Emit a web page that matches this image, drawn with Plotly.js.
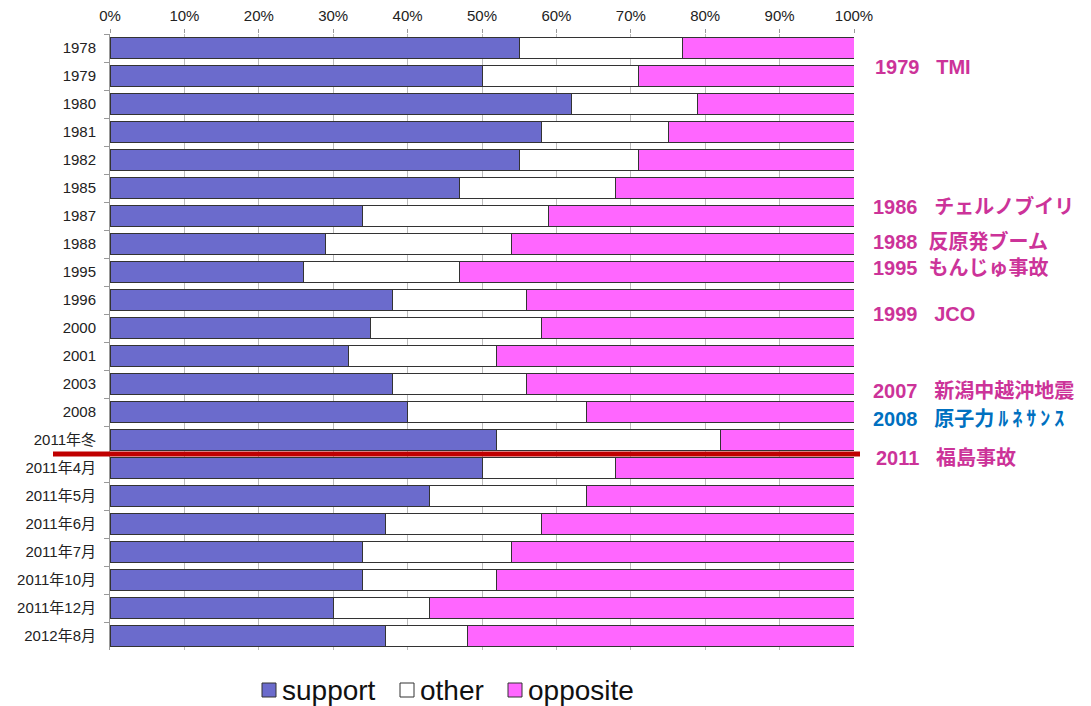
<!DOCTYPE html>
<html><head><meta charset="utf-8">
<script src="https://cdn.plot.ly/plotly-3.0.1.min.js"></script>
<style>html,body{margin:0;padding:0;background:#fff;}#chart{width:1091px;height:706px;}</style>
</head><body><div id="chart"></div>
<script>
const categories = ["1978","1979","1980","1981","1982","1985","1987","1988","1995","1996","2000","2001","2003","2008","2011年冬","2011年4月","2011年5月","2011年6月","2011年7月","2011年10月","2011年12月","2012年8月"];
const support  = [55,50,62,58,55,47,34,29,26,38,35,32,38,40,52,50,43,37,34,34,30,37];
const other    = [22,21,17,17,16,21,25,25,21,18,23,20,18,24,30,18,21,21,20,18,13,11];
const opposite = [23,29,21,25,29,32,41,46,53,44,42,48,44,36,18,32,36,42,46,48,57,52];
const seriesNames = ["support","other","opposite"];
const seriesColors = ["#6B6BCC","#FFFFFF","#FF66FF"];
const xTicks = [0,10,20,30,40,50,60,70,80,90,100];
const xTickLabels = ["0%","10%","20%","30%","40%","50%","60%","70%","80%","90%","100%"];
const eventTexts = ["1979\u00a0\u00a0 TMI","1986\u00a0\u00a0 チェルノブイリ","1988\u00a0 反原発ブーム","1995\u00a0 もんじゅ事故","1999\u00a0\u00a0 JCO","2007\u00a0\u00a0 新潟中越沖地震","2008\u00a0\u00a0 原子力\u2009ﾙ\u2009ﾈ\u2009ｻ\u2009ﾝ\u2009ｽ","2011\u00a0\u00a0 福島事故"];
const eventColors = ["#CC3399","#CC3399","#CC3399","#CC3399","#CC3399","#CC3399","#0070C0","#CC3399"];

// layout positions (pixels)
const evY = [67,206,241,268,314,391,419,458];
const evX = [873,871,871,871,871,871,871,874];
const L = 110, W = 744, T = 34, H = 616;
const px = v => (v - L) / W;
const py = v => 1 - (v - T) / H;

const lineStyle = {color:"#333333", width:1};
const data = [support, other, opposite];
const traces = data.map((vals,i)=>({
  type:"bar", orientation:"h", name:seriesNames[i], y:categories, x:vals,
  marker:{color:seriesColors[i], line:lineStyle}
}));

const FONT = "Liberation Sans, Arial, Noto Sans CJK JP, sans-serif";
const annotations = eventTexts.map((t,i)=>({
  xref:"paper", yref:"paper", x:px(evX[i]), xanchor:"left",
  y:py(evY[i]), yanchor:"middle",
  text:"<b>"+t+"</b>", showarrow:false,
  font:{family:FONT, size:20, color:eventColors[i]}
}));

// custom legend
const legSq = [262,400,508];
const legY = 690;
const shapes = [{type:"line", xref:"paper", yref:"y", x0:px(53), x1:px(860), y0:14.5, y1:14.5, line:{color:"#C00000", width:5}}];
seriesNames.forEach((n,i)=>{
  shapes.push({type:"rect", xref:"paper", yref:"paper", x0:px(legSq[i]), x1:px(legSq[i]+14), y0:py(legY+7), y1:py(legY-7),
    fillcolor:seriesColors[i], line:{color:"#333", width:1}});
  annotations.push({xref:"paper", yref:"paper", x:px(legSq[i]+18), xanchor:"left", y:py(legY), yanchor:"middle",
    text:n, showarrow:false, font:{family:FONT, size:28, color:"#111"}});
});

const layout = {
  width:1091, height:706,
  margin:{l:L, r:1091-L-W, t:T, b:706-T-H},
  paper_bgcolor:"#fff", plot_bgcolor:"#fff",
  barmode:"stack", bargap:0.25,
  showlegend:false,
  font:{family:FONT, color:"#111"},
  xaxis:{side:"top", range:[0,100], tickvals:xTicks, ticktext:xTickLabels, showgrid:true, gridcolor:"#BBBBBB", gridwidth:1,
         ticks:"outside", ticklen:4, tickcolor:"#999", zeroline:false, showline:false, tickfont:{size:15, color:"#222"}, ticklabelstandoff:2},
  yaxis:{type:"category", autorange:"reversed", tickson:"boundaries", ticks:"outside", ticklen:5, tickcolor:"#999",
         showline:true, linecolor:"#999", linewidth:1, showgrid:false, tickfont:{size:15, color:"#222"}, ticklabelstandoff:10},
  shapes:shapes,
  annotations:annotations
};
Plotly.newPlot("chart", traces, layout, {displayModeBar:false, staticPlot:true});
</script></body></html>
